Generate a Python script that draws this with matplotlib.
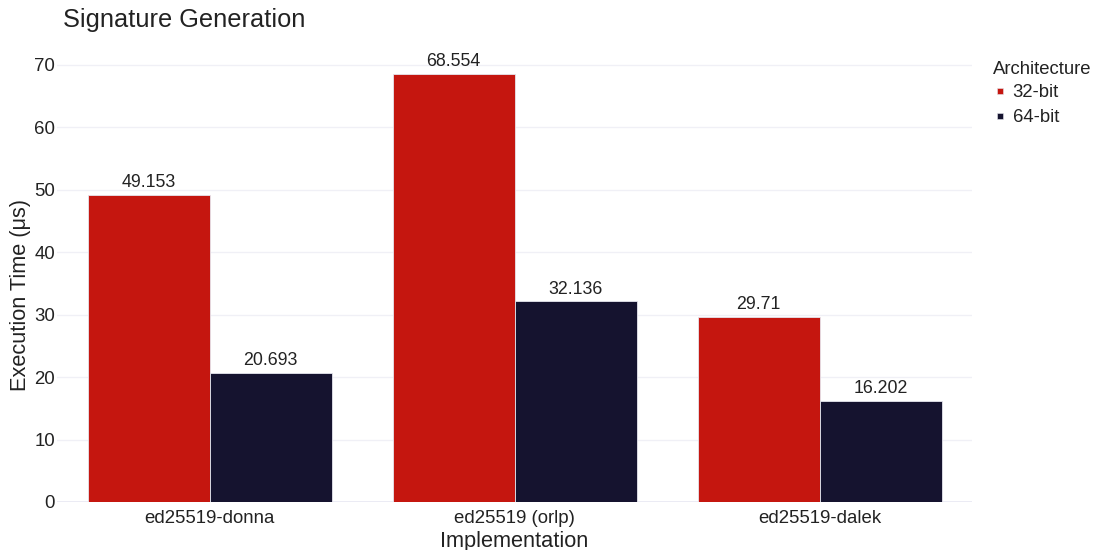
import matplotlib.pyplot as plt
from matplotlib.lines import Line2D
import numpy as np

plt.rcParams['font.family'] = ['Liberation Sans', 'DejaVu Sans']

implementations = ['ed25519-donna', 'ed25519 (orlp)', 'ed25519-dalek']
arch_labels = ['32-bit', '64-bit']
times_32 = [49.153, 68.554, 29.71]
times_64 = [20.693, 32.136, 16.202]
colors = ['#c5160f', '#15132f']

W, H = 1094, 550
fig = plt.figure(figsize=(W / 100, H / 100), dpi=100)
ax = fig.add_axes([57 / W, 1 - 502 / H, (972 - 57) / W, (502 - 45) / H])

xs = np.arange(len(implementations))
width = 0.4
for i, (vals, col, lab) in enumerate(zip([times_32, times_64], colors, arch_labels)):
    pos = xs + (i - 0.5) * width
    ax.bar(pos, vals, width, color=col, edgecolor='#e6e6ee', linewidth=0.6,
           label=lab, zorder=3)
    for x, v in zip(pos, vals):
        ax.text(x, v + 0.6, f'{v:g}', ha='center', va='bottom', fontsize=12.8,
                color='#222222', zorder=4)

ax.set_xlim(-0.5, 2.5)
ax.set_ylim(0, 73.2)
ax.set_yticks(np.arange(0, 71, 10))
ax.set_xticks(xs)
ax.set_xticklabels(implementations)
ax.tick_params(axis='both', length=0, labelsize=13.4, colors='#222222')
ax.tick_params(axis='y', pad=1.5)
ax.tick_params(axis='x', pad=6)
ax.grid(axis='y', color='#f0f0f6', linewidth=1, zorder=0)
for s in ax.spines.values():
    s.set_visible(False)
ax.axhline(0, color='#e8e8f3', linewidth=1.2, zorder=2)

ax.set_xlabel('Implementation', fontsize=15.7, color='#222222', labelpad=3)
fig.text(21 / W, 1 - 295 / H, 'Execution Time (μs)', rotation=90,
         fontsize=15.7, color='#222222', ha='center', va='center')
fig.text(63 / W, 1 - 20 / H, 'Signature Generation', fontsize=18.3,
         color='#222222', ha='left', va='center')

# legend: title as plain text, entries indented beneath it
fig.text(993 / W, 1 - 69 / H, 'Architecture', fontsize=13.3,
         color='#222222', ha='left', va='center')
handles = [Line2D([], [], linestyle='none', marker='s', markersize=4.5,
                  markerfacecolor=c, markeredgecolor='#e6e6ee',
                  markeredgewidth=0.4) for c in colors]
leg = fig.legend(handles, arch_labels, loc='upper left',
                 bbox_to_anchor=(996 / W, 1 - 84 / H),
                 frameon=False, fontsize=13.3, handlelength=0.45,
                 handletextpad=0.45, labelspacing=0.45,
                 borderaxespad=0, borderpad=0)
for t in leg.get_texts():
    t.set_color('#222222')

fig.savefig('out.png', dpi=100)
